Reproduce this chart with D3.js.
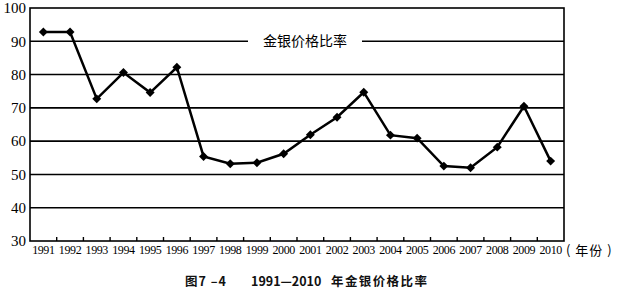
<!DOCTYPE html>
<html>
<head>
<meta charset="utf-8">
<script src="https://cdn.jsdelivr.net/npm/d3@7"></script>
<style>
  body { margin: 0; background: #fff; }
</style>
</head>
<body>
<div id="chart"></div>
<script>
const years = ["1991","1992","1993","1994","1995","1996","1997","1998","1999","2000",
               "2001","2002","2003","2004","2005","2006","2007","2008","2009","2010"];
const ratio = [92.8, 92.8, 72.7, 80.6, 74.6, 82.2, 55.4, 53.2, 53.5, 56.2,
               61.9, 67.2, 74.7, 61.8, 60.9, 52.5, 52.0, 58.2, 70.5, 54.0];
const yTicks = [30, 40, 50, 60, 70, 80, 90, 100];
const seriesName = "金银价格比率";
const xUnit = "( 年份 )";
const captionParts = ["图7 –4", "1991—2010", "年金银价格比率"];

const W = 618, H = 292;
const margin = {top: 8, right: 54, bottom: 51, left: 30},
    width = W - margin.left - margin.right,
    height = H - margin.top - margin.bottom;

const root = d3.select("#chart")
    .append("svg")
    .attr("width", W)
    .attr("height", H);

const svg = root.append("g")
    .attr("transform", `translate(${margin.left}, ${margin.top})`);

const x = d3.scaleBand()
    .domain(years)
    .range([0, width]);

const y = d3.scaleLinear()
    .domain([30, 100])
    .range([height, 0]);

// horizontal grid lines
svg.selectAll(".grid")
    .data(yTicks.slice(1, -1))
    .enter()
    .append("line")
    .attr("x1", 0)
    .attr("x2", width)
    .attr("y1", d => y(d))
    .attr("y2", d => y(d))
    .style("stroke", "#000")
    .style("stroke-width", 1.6);

// frame
svg.append("rect")
    .attr("x", 0)
    .attr("y", 0)
    .attr("width", width)
    .attr("height", height)
    .style("fill", "none")
    .style("stroke", "#000")
    .style("stroke-width", 1.6);

// legend sits on the 90 line
const legX = 275, legY = y(90);
svg.append("rect")
    .attr("x", legX - 57)
    .attr("y", legY - 4)
    .attr("width", 114)
    .attr("height", 8)
    .style("fill", "#fff");
svg.append("text")
    .attr("x", legX)
    .attr("y", legY)
    .attr("dy", "0.36em")
    .attr("text-anchor", "middle")
    .style("font-family", "'Noto Sans CJK SC', sans-serif")
    .style("font-size", "14px")
    .text(seriesName);

// ticks at band edges, pointing inward
svg.selectAll(".xtick")
    .data(years.slice(1))
    .enter()
    .append("line")
    .attr("x1", d => x(d))
    .attr("x2", d => x(d))
    .attr("y1", height)
    .attr("y2", height - 4)
    .style("stroke", "#000")
    .style("stroke-width", 1.4);

// x axis labels
const xAxis = svg.append("g")
    .attr("transform", `translate(0, ${height})`)
    .call(d3.axisBottom(x).tickSize(0).tickPadding(4));
xAxis.select(".domain").remove();
xAxis.selectAll("text")
    .style("font-family", "'Liberation Serif', serif")
    .style("font-size", "12px")
    .style("letter-spacing", "-0.4px")
    .attr("fill", "#000");

// y axis labels
const yAxis = svg.append("g")
    .call(d3.axisLeft(y).tickValues(yTicks).tickSize(0).tickPadding(4));
yAxis.select(".domain").remove();
yAxis.selectAll("text")
    .style("font-family", "'Liberation Serif', serif")
    .style("font-size", "15px")
    .attr("fill", "#000");

// unit label
svg.append("text")
    .attr("x", width + 2)
    .attr("y", height + 14)
    .style("font-family", "'Noto Sans CJK SC', sans-serif")
    .style("font-size", "13px")
    .style("letter-spacing", "1px")
    .style("white-space", "pre")
    .text(xUnit);

// series line
const cx = (d, i) => x(years[i]) + x.bandwidth() / 2;
const line = d3.line()
    .x(cx)
    .y(d => y(d));

svg.append("path")
    .datum(ratio)
    .attr("d", line)
    .style("fill", "none")
    .style("stroke", "#000")
    .style("stroke-width", 2.5)
    .style("stroke-linejoin", "miter");

svg.selectAll(".pt")
    .data(ratio)
    .enter()
    .append("path")
    .attr("d", d3.symbol().type(d3.symbolSquare).size(40))
    .attr("transform", (d, i) => `translate(${cx(d, i)}, ${y(d)}) rotate(45)`)
    .style("fill", "#000");

// figure caption
const cap = root.append("text")
    .attr("y", 286)
    .style("font-family", "'Noto Sans CJK SC', sans-serif")
    .style("font-weight", "bold")
    .style("font-size", "12.5px")
    .attr("fill", "#111");
cap.append("tspan").attr("x", 185).style("letter-spacing", "1px").style("white-space", "pre").text(captionParts[0]);
cap.append("tspan").attr("x", 251).text(captionParts[1]);
cap.append("tspan").attr("x", 331).style("letter-spacing", "1.4px").text(captionParts[2]);
</script>
</body>
</html>
